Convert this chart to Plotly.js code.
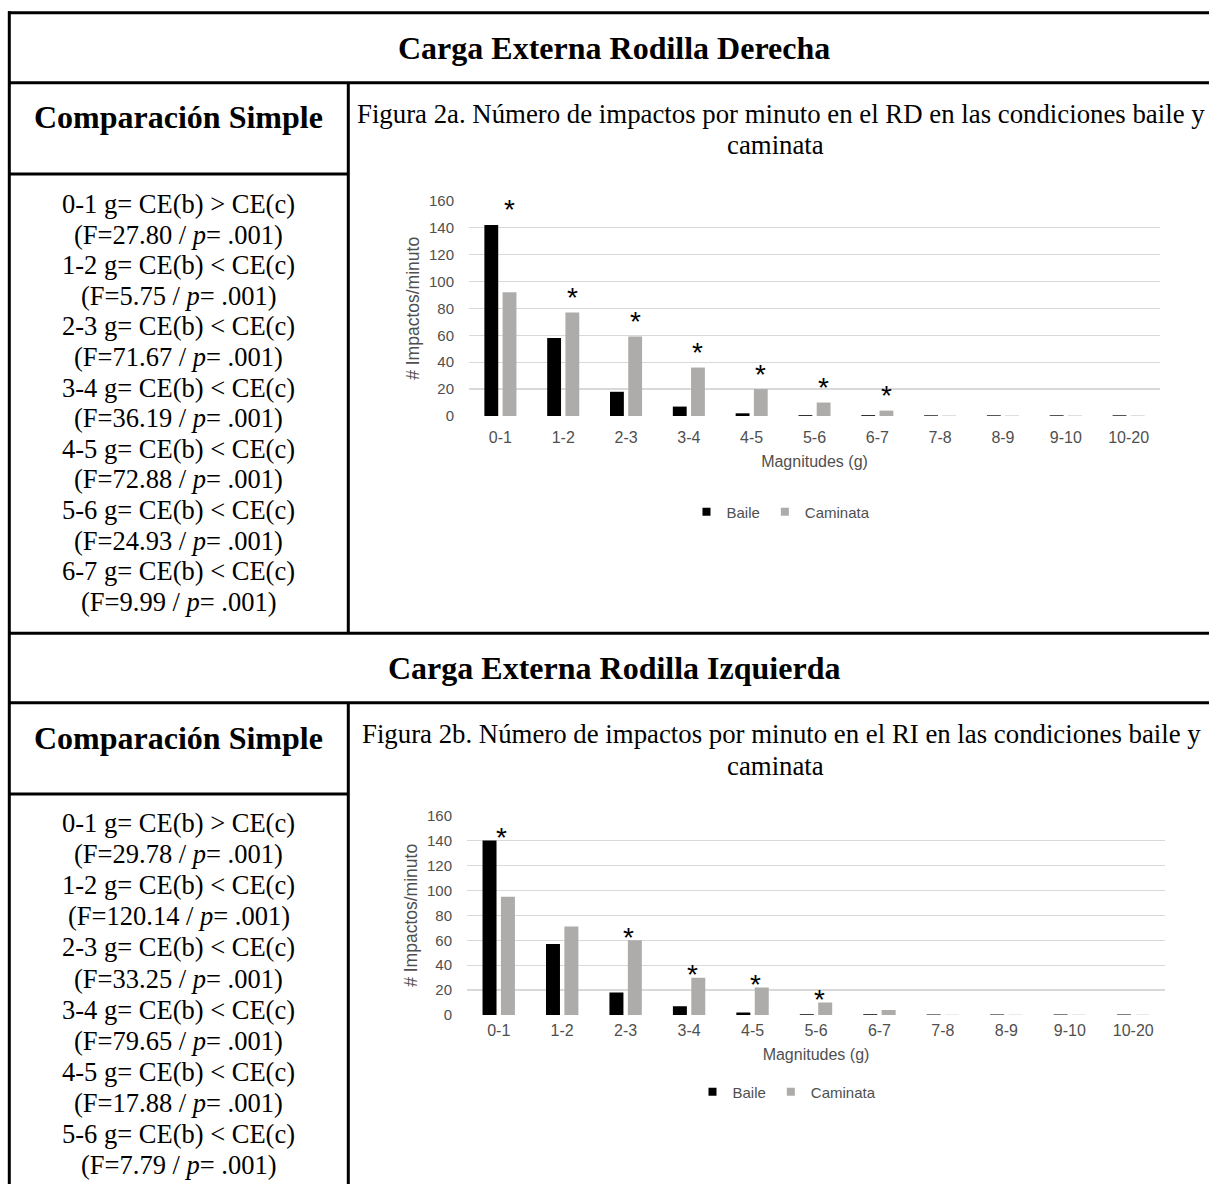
<!DOCTYPE html>
<html>
<head>
<meta charset="utf-8">
<script src="https://cdn.plot.ly/plotly-3.0.1.min.js"></script>
<style>
  html, body { margin: 0; padding: 0; background: #ffffff; }
  #fig { width: 1209px; height: 1184px; }
</style>
</head>
<body>
<div id="fig"></div>
<script>
// Impact magnitude bins (g)
const magnitudes = ['0-1', '1-2', '2-3', '3-4', '4-5', '5-6', '6-7', '7-8', '8-9', '9-10', '10-20'];

// Impacts per minute, right knee (RD)
const baileRD    = [142, 58, 18, 7, 2, 0.6, 0.6, 0.5, 0.5, 0.5, 0.5];
const caminataRD = [92, 77, 59, 36, 20, 10, 4, 0.3, 0.3, 0.3, 0.3];

// Impacts per minute, left knee (RI)
const baileRI    = [140, 57, 18, 7, 2, 0.6, 0.6, 0.5, 0.5, 0.5, 0.5];
const caminataRI = [95, 71, 60, 30, 22, 10, 4, 0.3, 0.3, 0.3, 0.3];

// Bins flagged with an asterisk
const significantRD = ['0-1', '1-2', '2-3', '3-4', '4-5', '5-6', '6-7'];
const significantRI = ['0-1', '2-3', '3-4', '4-5', '5-6'];

// Simple comparisons (dance vs walk)
const rangesRD = ['0-1', '1-2', '2-3', '3-4', '4-5', '5-6', '6-7'];
const signsRD  = ['>', '<', '<', '<', '<', '<', '<'];
const fRD      = ['27.80', '5.75', '71.67', '36.19', '72.88', '24.93', '9.99'];

const rangesRI = ['0-1', '1-2', '2-3', '3-4', '4-5', '5-6'];
const signsRI  = ['>', '<', '<', '<', '<', '<'];
const fRI      = ['29.78', '120.14', '33.25', '79.65', '17.88', '7.79'];
const pValue   = '.001';

// ---------------------------------------------------------------
const W = 1209, H = 1184;
const px = v => v / W;
const py = v => 1 - v / H;

const serif = 'Liberation Serif, Times New Roman, serif';
const sans = 'Liberation Sans, Arial, sans-serif';
const axisGrey = '#4f4f4f';
const gridGrey = '#d9d9d9';
const colBaile = '#000000';
const colCaminata = '#aeabab';

function barTrace(name, y, color, xa, ya) {
  return {
    type: 'bar', name: name, x: magnitudes, y: y,
    xaxis: xa, yaxis: ya,
    marker: { color: color, line: { width: 0 } },
    showlegend: false, hoverinfo: 'skip'
  };
}
function legendTrace(name, color, xa, ya, legendId) {
  return {
    type: 'scatter', mode: 'markers', name: name, x: [null], y: [null],
    xaxis: xa, yaxis: ya, legend: legendId,
    marker: { symbol: 'square', size: 8, color: color },
    hoverinfo: 'skip'
  };
}

const data = [
  barTrace('Baile', baileRD, colBaile, 'x', 'y'),
  barTrace('Caminata', caminataRD, colCaminata, 'x', 'y'),
  barTrace('Baile', baileRI, colBaile, 'x2', 'y2'),
  barTrace('Caminata', caminataRI, colCaminata, 'x2', 'y2'),
  legendTrace('Baile', colBaile, 'x', 'y', 'legend'),
  legendTrace('Caminata', colCaminata, 'x', 'y', 'legend'),
  legendTrace('Baile', colBaile, 'x2', 'y2', 'legend2'),
  legendTrace('Caminata', colCaminata, 'x2', 'y2', 'legend2')
];

function xAxis(domain, anchor, standoff) {
  return {
    domain: domain, anchor: anchor, type: 'category',
    categoryorder: 'array', categoryarray: magnitudes,
    showgrid: false, zeroline: false, showline: false, ticks: '',
    ticklabelstandoff: standoff,
    tickfont: { family: sans, size: 16, color: axisGrey },
    title: { text: 'Magnitudes (g)', standoff: 10, font: { family: sans, size: 16, color: axisGrey } },
    fixedrange: true
  };
}
function yAxis(domain, anchor) {
  return {
    domain: domain, anchor: anchor, range: [0, 160], dtick: 20,
    showgrid: true, gridcolor: gridGrey, gridwidth: 1.3,
    zeroline: false, showline: false, ticks: '',
    ticklabelstandoff: 14,
    tickfont: { family: sans, size: 15, color: axisGrey },
    title: { text: '# Impactos/minuto', standoff: 4, font: { family: sans, size: 17.5, color: axisGrey } },
    fixedrange: true
  };
}
function legendBox(xc, yc) {
  return {
    orientation: 'h', x: px(xc), xanchor: 'center', y: py(yc), yanchor: 'middle',
    font: { family: sans, size: 15, color: axisGrey },
    bgcolor: 'rgba(0,0,0,0)', itemclick: false, itemdoubleclick: false
  };
}

// Table rules
const rule = (x0, y0, x1, y1) => ({
  type: 'line', xref: 'paper', yref: 'paper',
  x0: px(x0), y0: py(y0), x1: px(x1), y1: py(y1),
  line: { color: '#000000', width: 3 }
});
const shapes = [
  rule(8, 12.7, 1209, 12.7),
  rule(9.3, 11.2, 9.3, 1184),
  rule(8, 82.7, 1209, 82.7),
  rule(348.3, 82.7, 348.3, 633.3),
  rule(9.3, 174, 348.3, 174),
  rule(8, 633.3, 1209, 633.3),
  rule(8, 702.7, 1209, 702.7),
  rule(348.3, 702.7, 348.3, 1184),
  rule(9.3, 794, 348.3, 794)
];

// Text cells
function label(text, x, y, size, bold) {
  return {
    xref: 'paper', yref: 'paper', x: px(x), y: py(y),
    xanchor: 'center', yanchor: 'middle', showarrow: false, text: text,
    font: { family: serif, size: size, color: '#000000', weight: bold ? 'bold' : 'normal' }
  };
}
function comparisonLines(ranges, signs, fs, startY, step) {
  const out = [];
  ranges.forEach((r, i) => {
    const s = signs[i] === '>' ? '&gt;' : '&lt;';
    out.push(label(r + ' g= CE(b) ' + s + ' CE(c)', 178.5, startY + 2 * i * step, 26.5));
    out.push(label('(F=' + fs[i] + ' / <i>p</i>= ' + pValue + ')', 178.5, startY + (2 * i + 1) * step, 26.5));
  });
  return out;
}
// Significance asterisks over each flagged bin
function stars(sig, b, c, xa, ya, xshift, yshift) {
  return sig.map(cat => {
    const i = magnitudes.indexOf(cat);
    return {
      xref: xa, yref: ya, x: cat, y: Math.max(b[i], c[i]),
      xanchor: 'center', yanchor: 'middle', xshift: xshift, yshift: yshift,
      showarrow: false, text: '*',
      font: { family: sans, size: 28, color: '#000000' }
    };
  });
}

const annotations = [
  label('Carga Externa Rodilla Derecha', 614, 47.7, 32, true),
  label('Comparación Simple', 178.5, 117, 32, true),
  label('Figura 2a. Número de impactos por minuto en el RD en las condiciones baile y', 781, 114, 26.8, false),
  label('caminata', 776, 145.5, 26.8, false),
  label('Carga Externa Rodilla Izquierda', 614, 668, 32, true),
  label('Comparación Simple', 178.5, 737.5, 32, true),
  label('Figura 2b. Número de impactos por minuto en el RI en las condiciones baile y', 781, 734, 26.8, false),
  label('caminata', 776, 765.5, 26.8, false)
]
  .concat(comparisonLines(rangesRD, signsRD, fRD, 204, 30.6))
  .concat(comparisonLines(rangesRI, signsRI, fRI, 823, 31.1))
  .concat(stars(significantRD, baileRD, caminataRD, 'x', 'y', 9, 15))
  .concat(stars(significantRI, baileRI, caminataRI, 'x2', 'y2', 3, 3));

const layout = {
  width: W, height: H,
  margin: { l: 0, r: 0, t: 0, b: 0, pad: 0 },
  paper_bgcolor: '#ffffff', plot_bgcolor: '#ffffff',
  barmode: 'group', bargap: 0.42, bargroupgap: 0.24,
  xaxis: xAxis([px(469), px(1160)], 'y', 10),
  yaxis: yAxis([py(416), py(200.7)], 'x'),
  xaxis2: xAxis([px(467), px(1165)], 'y2', 4),
  yaxis2: yAxis([py(1015), py(815.7)], 'x2'),
  legend: legendBox(781, 512),
  legend2: legendBox(787, 1092),
  shapes: shapes,
  annotations: annotations,
  showlegend: true
};

Plotly.newPlot('fig', data, layout, { staticPlot: true, displayModeBar: false });
</script>
</body>
</html>
